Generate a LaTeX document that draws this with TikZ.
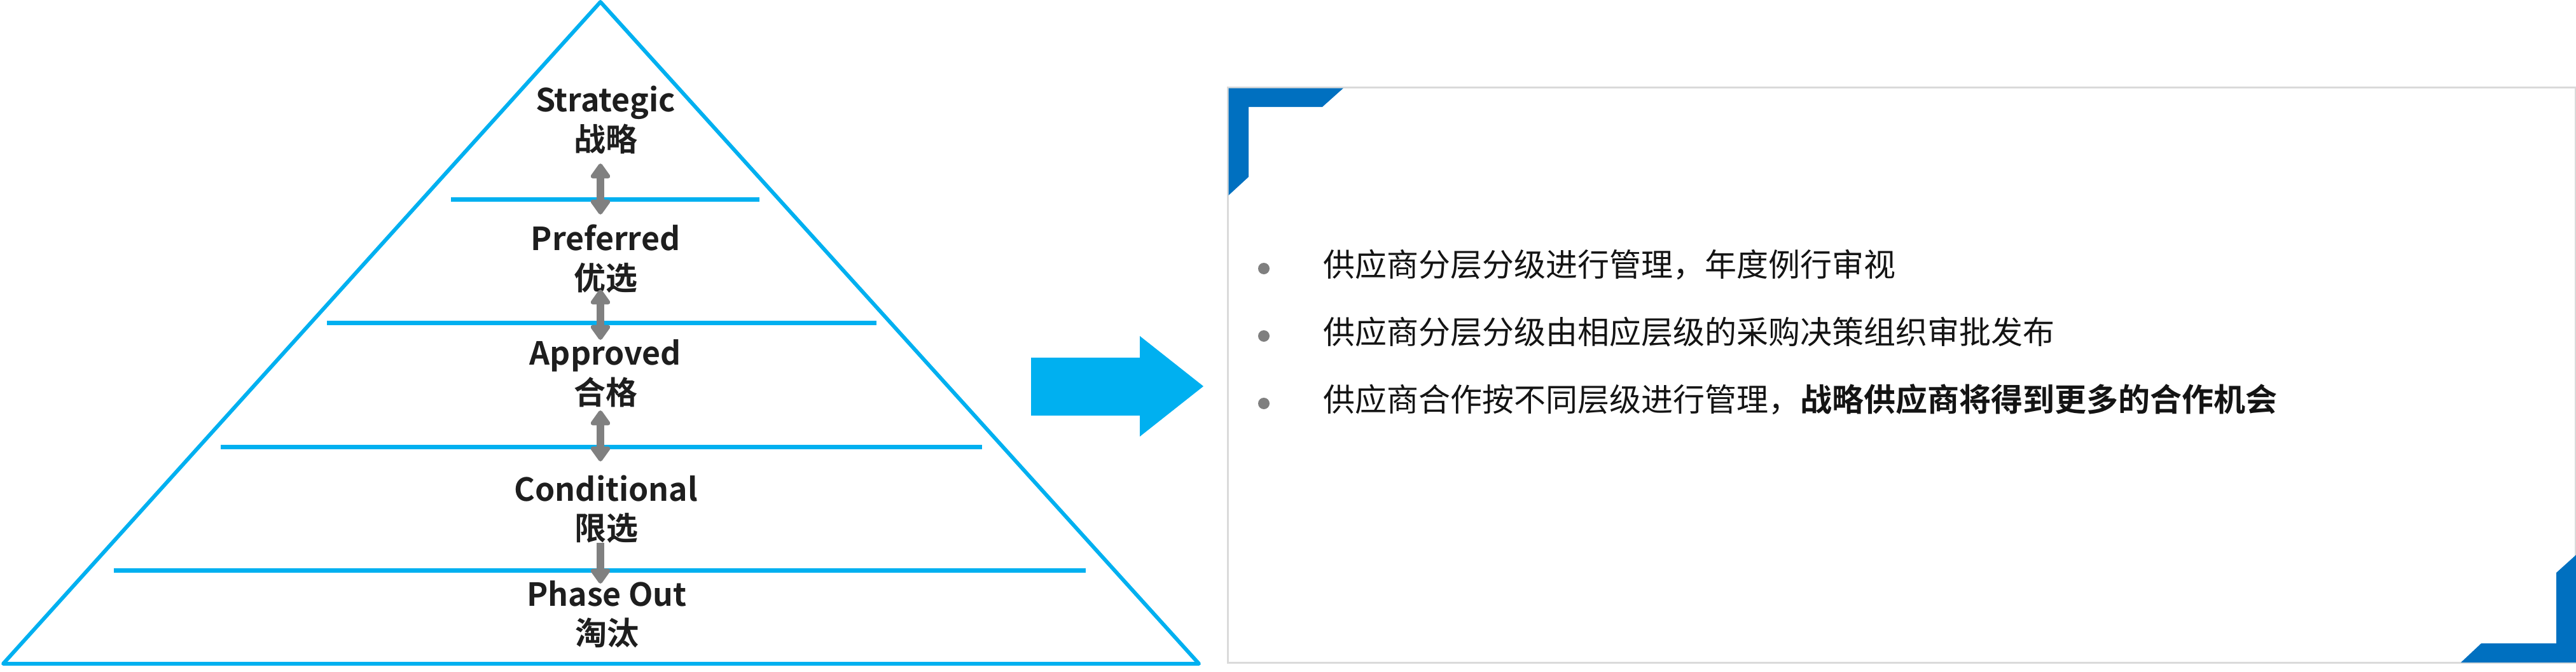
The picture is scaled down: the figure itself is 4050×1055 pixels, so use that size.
\documentclass[tikz,border=0pt]{standalone}
\usepackage{fontspec}
\setmainfont{Noto Sans CJK SC}[BoldFont={* Bold}]
\usetikzlibrary{arrows.meta}
\definecolor{triblue}{HTML}{00B0F0}
\definecolor{cornerblue}{HTML}{0070C0}
\definecolor{arrowgray}{HTML}{808080}
\definecolor{panelgray}{HTML}{DADADA}
\definecolor{bulgray}{HTML}{7F7F7F}
\definecolor{txtdark}{HTML}{1E1E1E}
\tikzset{
  tri/.style={draw=triblue, line width=6pt, line join=round},
  tier/.style={draw=triblue, line width=7pt},
  lab/.style={font=\bfseries\fontsize{50}{62}\selectfont, text=txtdark, inner sep=0pt, anchor=base},
  updown/.style={draw=arrowgray, line width=12pt, {Triangle[width=35pt,length=26pt,round]}-{Triangle[width=35pt,length=26pt,round]}},
  downonly/.style={draw=arrowgray, line width=12pt, -{Triangle[width=35pt,length=26pt,round]}},
  body/.style={font=\fontsize{50}{62}\selectfont, text=black!92, inner sep=0pt, anchor=base west},
  bulletdot/.style={circle, fill=bulgray, inner sep=0pt, minimum size=18pt},
  panel/.style={draw=panelgray, line width=3pt, fill=white},
  corner/.style={fill=cornerblue},
  bigarrow/.style={fill=triblue}
}
\begin{document}
\begin{tikzpicture}[x=1pt,y=-1pt]
\useasboundingbox (0,0) rectangle (4050,1055);
% pyramid
\draw[tri] (944,3) -- (1885,1043) -- (5,1043) -- cycle;
\draw[tier] (709,313) -- (1194,313);
\draw[tier] (514,507) -- (1378,507);
\draw[tier] (347,702) -- (1544,702);
\draw[tier] (179,896) -- (1707,896);
% labels
\node[lab] (strEn) at (952,175) {Strategic};
\node[lab] (strZh) at (952,237) {战略};
\node[lab] (prefEn) at (952,393) {Preferred};
\node[lab] (prefZh) at (952,455) {优选};
\node[lab] (appEn) at (952,573) {Approved};
\node[lab] (appZh) at (952,635) {合格};
\node[lab] (condEn) at (953,787) {Conditional};
\node[lab] (condZh) at (953,848) {限选};
\node[lab] (phEn) at (954,952) {Phase Out};
\node[lab] (phZh) at (954,1013) {淘汰};
% grey arrows
\coordinate (a1t) at (944,257); \coordinate (a1b) at (944,337);
\coordinate (a2t) at (944,455); \coordinate (a2b) at (944,534);
\coordinate (a3t) at (944,645); \coordinate (a3b) at (944,725);
\coordinate (a4t) at (944,853); \coordinate (a4b) at (944,917);
\draw[updown] (a1t) -- (a1b);
\draw[updown] (a2t) -- (a2b);
\draw[updown] (a3t) -- (a3b);
\draw[downonly] (a4t) -- (a4b);
% big arrow
\fill[bigarrow] (1621,562) -- (1792,562) -- (1792,528) -- (1892,607) -- (1792,686) -- (1792,653) -- (1621,653) -- cycle;
% panel
\draw[panel] (1930,137) rectangle (4049,1041);
\fill[corner] (1931.5,138.5) -- (2112,138.5) -- (2079,168) -- (1963,168) -- (1963,278) -- (1931.5,307) -- cycle;
\fill[corner] (4050,872) -- (4050,1041) -- (3869,1041) -- (3901,1011) -- (4019,1011) -- (4019,900) -- cycle;
% bullets
\node[bulletdot] (d1) at (1987,422) {};
\node[bulletdot] (d2) at (1987,528) {};
\node[bulletdot] (d3) at (1987,634) {};
\node[body] (t1) at (2080,434) {供应商分层分级进行管理，年度例行审视};
\node[body] (t2) at (2080,540) {供应商分层分级由相应层级的采购决策组织审批发布};
\node[body] (t3) at (2080,646) {供应商合作按不同层级进行管理，\textbf{战略供应商将得到更多的合作机会}};
\end{tikzpicture}
\end{document}
